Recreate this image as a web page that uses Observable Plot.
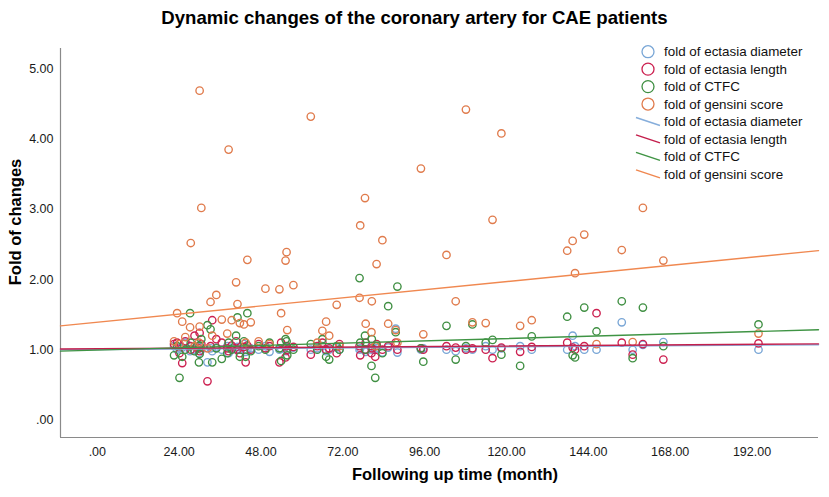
<!DOCTYPE html>
<html>
<head>
<meta charset="utf-8">
<script src="https://cdn.jsdelivr.net/npm/d3@7"></script>
<script src="https://cdn.jsdelivr.net/npm/@observablehq/plot@0.6"></script>
<style>
  html, body { margin: 0; padding: 0; background: #fff; }
  #title { height: 34px; box-sizing: border-box; padding-top: 7px; line-height: 22px; text-align: center; font: bold 18.6px "Liberation Sans", Arial, sans-serif; color: #000; }
  #chart svg { display: block; }
</style>
</head>
<body>
<div id="title">Dynamic changes of the coronary artery for CAE patients</div>
<div id="chart"></div>
<script>
// ---- data ----
const months = [22.5,23.4,24.1,24.9,25.8,27.2,27.4,28.5,29.8,30.0,30.5,30.0,
  32.3,33.2,33.7,34.9,36.5,38.1,38.5,39.4,40.7,41.1,41.8,43.0,43.5,44.0,45.0,
  47.3,49.3,50.5,53.4,53.9,55.2,55.5,55.7,57.5,
  62.6,64.5,66.0,67.1,68.0,70.2,71.0,
  76.9,77.1,78.5,78.7,80.4,80.5,81.5,81.9,83.6,85.3,87.5,88.0,
  94.9,95.6,102.4,105.1,108.1,110.0,113.9,115.9,118.5,
  124.0,127.4,137.8,139.4,140.1,142.8,146.4,
  153.8,157.0,160.0,166.0,
  193.9];
const diameter = [1.05,1.00,1.02,1.03,1.10,0.98,1.05,1.00,0.95,1.04,1.00,1.06,
  0.82,1.02,0.98,1.03,1.00,1.05,0.95,1.02,1.00,1.04,1.00,1.08,0.97,1.00,1.02,
  1.00,1.05,0.97,1.00,1.02,1.04,0.98,1.00,1.03,
  1.00,1.02,1.05,0.98,1.00,1.03,1.00,
  1.00,1.02,1.00,0.97,1.05,1.00,1.00,1.02,0.96,1.03,1.30,0.96,
  1.00,1.02,1.00,0.98,1.02,1.00,1.05,1.00,1.02,
  1.05,1.00,1.00,1.20,1.05,1.00,1.00,
  1.39,1.00,1.07,1.11,
  1.00];
const length = [1.08,1.10,0.95,0.81,1.12,1.05,1.00,1.20,1.02,1.24,1.08,0.98,
  0.55,1.05,1.42,1.15,1.10,1.02,0.98,1.06,1.12,1.00,0.95,1.04,0.82,1.06,1.00,
  1.08,1.02,1.05,0.82,1.10,0.89,1.05,1.00,1.04,
  0.93,1.05,1.10,1.00,1.02,0.95,1.08,
  1.05,0.92,1.00,1.10,0.95,1.02,0.90,1.08,1.00,1.05,1.10,1.00,
  1.02,1.00,1.05,1.03,1.00,1.02,1.00,0.88,1.03,
  0.97,1.04,1.10,1.03,1.00,1.05,1.52,
  1.10,0.93,1.08,0.86,
  1.09];
const ctfc = [0.92,1.05,0.60,0.90,1.00,1.52,1.10,0.98,0.82,1.06,1.15,0.94,
  1.35,1.29,0.82,1.02,0.87,0.95,1.10,1.00,1.20,1.46,0.90,1.12,0.90,1.52,0.98,
  1.05,1.00,1.10,1.02,0.84,1.15,1.12,0.92,1.00,
  1.08,1.00,1.15,0.90,0.86,1.05,1.00,
  2.02,1.10,1.20,1.00,0.77,1.15,0.60,1.05,0.95,1.62,1.25,1.90,
  1.02,0.83,1.34,0.86,1.05,1.36,1.10,1.14,0.93,
  0.77,1.19,1.47,0.92,0.89,1.60,1.26,
  1.69,0.88,1.60,1.05,
  1.36];
const gensini = [1.12,1.52,1.08,1.40,1.18,1.32,2.52,1.05,1.10,4.69,3.02,1.33,
  1.02,1.68,1.20,1.78,1.43,1.23,3.85,1.42,1.96,1.65,1.38,1.36,1.10,2.28,1.39,
  1.12,1.87,1.08,1.86,1.52,2.27,2.39,1.28,1.92,
  4.32,1.10,1.27,1.40,1.20,1.64,1.05,
  1.74,2.77,3.16,1.37,1.25,1.69,1.05,2.22,2.56,1.37,1.28,1.10,
  3.58,1.22,2.35,1.69,4.42,1.39,1.38,2.85,4.08,
  1.34,1.42,2.41,2.55,2.09,2.64,1.08,
  2.42,1.11,3.02,2.27,
  1.23];

const seriesNames = ["fold of ectasia diameter", "fold of ectasia length", "fold of CTFC", "fold of gensini score"];
const seriesValues = [diameter, length, ctfc, gensini];
const dotColors = ["#79a6d6", "#cc2050", "#3f8f42", "#e07b4c"];
const lineColors = ["#86aedb", "#c41f4c", "#3f9444", "#f08850"];
// fit lines (intercept at month 0, slope per month)
const fitIntercept = [1.003, 1.013, 0.995, 1.392];
const fitSlope = [0.00032, 0.00033, 0.00137, 0.00482];

const xTicks = [0, 24, 48, 72, 96, 120, 144, 168, 192];
const yTicks = [0, 1, 2, 3, 4, 5];
const xDomain = [-10.8, 211.5];
const yDomain = [-0.25, 5.29];

const fmt = d => d === 0 ? ".00" : d.toFixed(2);

// tidy tables
const points = [];
seriesNames.forEach((s, k) => months.forEach((m, i) => points.push({t: m, v: seriesValues[k][i], s, k})));
const fits = [];
seriesNames.forEach((s, k) => xDomain.forEach(x => fits.push({t: x, v: fitIntercept[k] + fitSlope[k] * x, s, k})));

const W = 829, H = 463;
const marks = [
  Plot.ruleX([xDomain[0]], {stroke: "#8a8a8a", strokeWidth: 1.2}),
  Plot.ruleY([yDomain[0]], {stroke: "#8a8a8a", strokeWidth: 1.2}),
];
seriesNames.forEach((s, k) => {
  marks.push(Plot.dot(points.filter(d => d.k === k), {x: "t", y: "v", r: 3.7, stroke: dotColors[k], strokeWidth: 1.35, fill: "none"}));
});
seriesNames.forEach((s, k) => {
  marks.push(Plot.line(fits.filter(d => d.k === k), {x: "t", y: "v", stroke: lineColors[k], strokeWidth: 1.4}));
});
marks.push(Plot.axisX({ticks: xTicks, tickFormat: fmt, tickSize: 0, tickPadding: 10, label: null, fontSize: 12.5}));
marks.push(Plot.axisY({ticks: yTicks, tickFormat: fmt, tickSize: 0, tickPadding: 7, label: null, fontSize: 12.5}));

const plot = Plot.plot({
  width: W, height: H,
  marginTop: 14, marginBottom: 60, marginLeft: 60, marginRight: 11,
  style: {fontFamily: "'Liberation Sans', Arial, sans-serif", fontSize: "12.5px", color: "#1a1a1a", background: "#fff"},
  x: {domain: xDomain},
  y: {domain: yDomain},
  marks
});
document.getElementById("chart").appendChild(plot);

const svg = d3.select(plot);
// axis titles
svg.append("text").attr("x", 455).attr("y", 446).attr("text-anchor", "middle")
  .attr("font-family", "'Liberation Sans', Arial, sans-serif").attr("font-weight", "bold").attr("font-size", 16.5).attr("fill", "#000")
  .text("Following up time (month)");
svg.append("text").attr("transform", "translate(21,188) rotate(-90)").attr("text-anchor", "middle")
  .attr("font-family", "'Liberation Sans', Arial, sans-serif").attr("font-weight", "bold").attr("font-size", 16.5).attr("fill", "#000")
  .text("Fold of changes");

// legend
const lg = svg.append("g").attr("font-family", "'Liberation Sans', Arial, sans-serif").attr("font-size", 13.4).attr("fill", "#111").attr("text-anchor", "start");
const top0 = 51.7 - 34, step = 17.45;
seriesNames.forEach((s, k) => {
  const y = top0 + k * step;
  lg.append("circle").attr("cx", 648).attr("cy", y).attr("r", 6).attr("fill", "none").attr("stroke", dotColors[k]).attr("stroke-width", 1.3);
  lg.append("text").attr("x", 664).attr("y", y).attr("dy", "0.35em").attr("text-anchor", "start").text(s);
});
seriesNames.forEach((s, k) => {
  const y = top0 + (k + 4) * step;
  lg.append("line").attr("x1", 636).attr("y1", y - 4).attr("x2", 660).attr("y2", y + 4).attr("stroke", lineColors[k]).attr("stroke-width", 1.4);
  lg.append("text").attr("x", 664).attr("y", y).attr("dy", "0.35em").attr("text-anchor", "start").text(s);
});
</script>
</body>
</html>
